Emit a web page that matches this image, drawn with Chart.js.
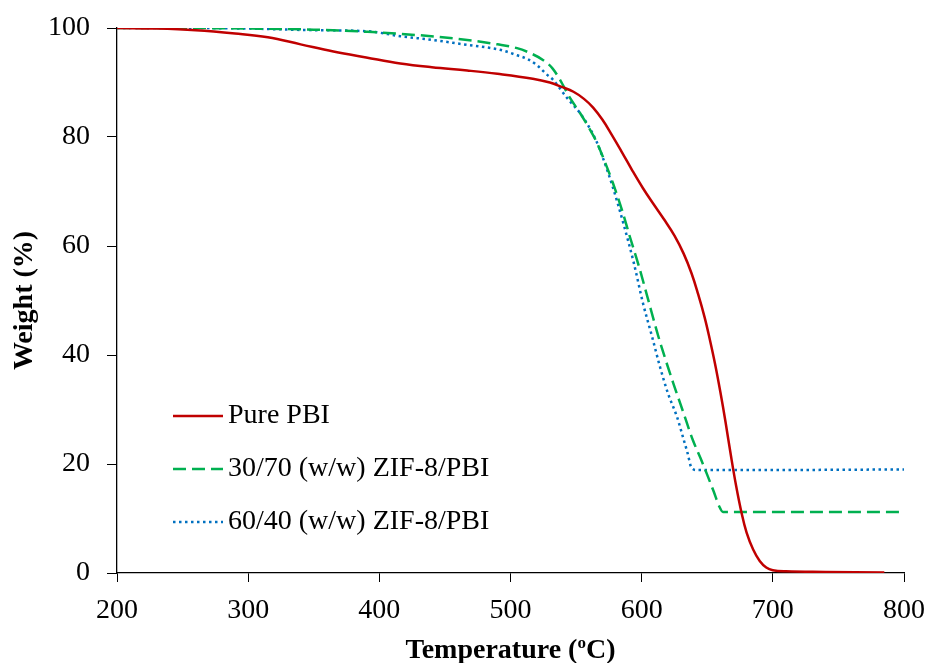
<!DOCTYPE html>
<html>
<head>
<meta charset="utf-8">
<title>TGA curves</title>
<script src="https://cdn.jsdelivr.net/npm/chart.js@4"></script>
<style>
  html, body { margin: 0; padding: 0; background: #fff; }
  #wrap { width: 928px; height: 663px; }
</style>
</head>
<body>
<div id="wrap"><canvas id="tga"></canvas></div>
<script>
// values (temperature in oC, weight in %)
const pbiTemp = [200, 230, 260, 290, 315, 340, 365, 390, 416, 440, 467, 490, 517, 530, 539, 548, 556, 563, 570, 577, 585, 593, 601, 609, 617, 625, 632, 638, 643, 648, 652, 656, 660, 664, 668, 672, 676, 680, 685, 690, 695, 700, 710, 740, 785];
const pbiWeight = [100, 99.9, 99.6, 99.0, 98.3, 97.0, 95.7, 94.6, 93.5, 92.8, 92.2, 91.6, 90.7, 90.0, 89.2, 88.3, 87.0, 85.4, 83.2, 80.5, 77.2, 73.8, 70.6, 67.7, 64.9, 61.9, 58.6, 55.0, 51.2, 46.9, 42.8, 38.3, 33.2, 27.6, 21.6, 16.0, 11.2, 7.4, 4.3, 2.2, 1.0, 0.5, 0.3, 0.2, 0.1];

const zif30Temp = [200, 250, 300, 350, 391, 429, 467, 490, 505, 515, 525, 532, 538, 545, 553, 560, 566, 572, 578, 585, 591, 598, 604, 612, 618, 624, 632, 639, 645, 650, 655, 659, 662, 700, 750, 800];
const zif30Weight = [100, 100, 99.9, 99.7, 99.3, 98.7, 97.8, 97.0, 96.3, 95.4, 94.1, 92.6, 90.4, 87.3, 84.4, 81.6, 78.9, 75.4, 71.6, 66.6, 61.7, 56.2, 51.0, 44.0, 39.3, 34.9, 29.3, 24.4, 21.0, 18.0, 14.9, 12.3, 11.2, 11.2, 11.2, 11.2];

const zif60Temp = [200, 250, 300, 350, 391, 416, 441, 467, 477, 492, 505, 513, 520, 528, 532, 543, 548, 553, 558, 565, 571, 578, 586, 594, 601, 608, 614, 620, 627, 632, 635, 638, 642, 700, 800];
const zif60Weight = [100, 100, 99.9, 99.6, 99.4, 98.5, 97.8, 96.9, 96.6, 96.0, 95.0, 94.3, 93.2, 91.4, 90.6, 87.2, 85.8, 84.4, 82.6, 79.5, 75.8, 70.8, 64.2, 56.9, 49.5, 43.3, 37.8, 33.0, 28.6, 24.5, 22.0, 19.3, 18.9, 18.9, 19.0];

const seriesNames = ["Pure PBI", "30/70 (w/w) ZIF-8/PBI", "60/40 (w/w) ZIF-8/PBI"];
const xTicks = [200, 300, 400, 500, 600, 700, 800];
const yTicks = [0, 20, 40, 60, 80, 100];

const FONT = "'Liberation Serif', 'Times New Roman', serif";

function toPoints(xs, ys) {
  return xs.map((x, i) => ({ x, y: ys[i] }));
}

// stop edge labels from pushing the plot area in
function noLabelPadding(s) {
  s.paddingTop = 0;
  s.paddingBottom = 0;
  s.paddingLeft = 0;
  s.paddingRight = 0;
}

// legend inside the plot + x title with a raised "o"
const overlay = {
  id: "overlay",
  afterDraw(chart) {
    const ctx = chart.ctx;
    const rows = [416, 469, 522];
    ctx.save();
    chart.data.datasets.forEach((ds, i) => {
      const y = rows[i];
      ctx.beginPath();
      ctx.strokeStyle = ds.borderColor;
      ctx.lineWidth = ds.borderWidth;
      ctx.setLineDash(ds.borderDash || []);
      ctx.moveTo(173, y);
      ctx.lineTo(223, y);
      ctx.stroke();
      ctx.setLineDash([]);
      ctx.fillStyle = "#000";
      ctx.font = `28px ${FONT}`;
      ctx.textBaseline = "middle";
      ctx.textAlign = "left";
      ctx.fillText(ds.label, 228, y);
    });

    const big = `bold 28px ${FONT}`;
    const small = `bold 17px ${FONT}`;
    const a = "Temperature (", b = "o", c = "C)";
    ctx.font = big;
    const wa = ctx.measureText(a).width, wc = ctx.measureText(c).width;
    ctx.font = small;
    const wb = ctx.measureText(b).width;
    const area = chart.chartArea;
    let x = (area.left + area.right) / 2 - (wa + wb + wc) / 2;
    const base = 658;
    ctx.textBaseline = "alphabetic";
    ctx.font = big;
    ctx.fillText(a, x, base);
    x += wa;
    ctx.font = small;
    ctx.fillText(b, x, base - 10);
    x += wb;
    ctx.font = big;
    ctx.fillText(c, x, base);
    ctx.restore();
  }
};

function buildChart() {
  const canvas = document.getElementById("tga");
  new Chart(canvas.getContext("2d"), {
    type: "line",
    data: {
      datasets: [
        {
          label: seriesNames[0],
          data: toPoints(pbiTemp, pbiWeight),
          borderColor: "#C00000",
          borderWidth: 2.5,
          tension: 0.4
        },
        {
          label: seriesNames[1],
          data: toPoints(zif30Temp, zif30Weight),
          borderColor: "#00B050",
          borderWidth: 2.5,
          borderDash: [13, 6],
          cubicInterpolationMode: "monotone"
        },
        {
          label: seriesNames[2],
          data: toPoints(zif60Temp, zif60Weight),
          borderColor: "#0070C0",
          borderWidth: 2.5,
          borderDash: [2.5, 3.5],
          cubicInterpolationMode: "monotone"
        }
      ]
    },
    options: {
      responsive: true,
      maintainAspectRatio: false,
      animation: false,
      parsing: false,
      elements: { point: { radius: 0, hoverRadius: 0 } },
      layout: { padding: { top: 28, right: 24, left: 0, bottom: 0 } },
      plugins: {
        legend: { display: false },
        tooltip: { enabled: false }
      },
      scales: {
        x: {
          type: "linear",
          min: 200,
          max: 800,
          afterFit: (s) => { s.height = 90; noLabelPadding(s); },
          afterBuildTicks: (s) => { s.ticks = xTicks.map(v => ({ value: v })); },
          grid: { drawOnChartArea: false, drawTicks: true, tickLength: 9, color: "#000", lineWidth: 1 },
          border: { display: true, color: "#000", width: 1.3 },
          ticks: { color: "#000", padding: 12, font: { family: FONT, size: 28 } },
          title: { display: false }
        },
        y: {
          min: 0,
          max: 100,
          afterFit: (s) => { s.width = 117; noLabelPadding(s); },
          afterBuildTicks: (s) => { s.ticks = yTicks.map(v => ({ value: v })); },
          grid: { drawOnChartArea: false, drawTicks: true, tickLength: 10, color: "#000", lineWidth: 1 },
          border: { display: true, color: "#000", width: 1.3 },
          ticks: { color: "#000", padding: 17, font: { family: FONT, size: 28 } },
          title: {
            display: true,
            text: "Weight (%)",
            color: "#000",
            padding: { top: 8, bottom: 0 },
            font: { family: FONT, size: 28, weight: "bold" }
          }
        }
      }
    },
    plugins: [overlay]
  });
}

document.addEventListener("DOMContentLoaded", buildChart);
</script>
</body>
</html>
